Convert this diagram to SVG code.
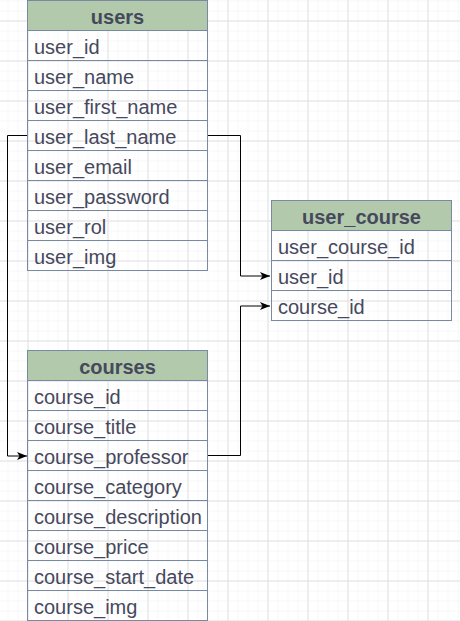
<svg xmlns="http://www.w3.org/2000/svg" width="460" height="621" viewBox="0 0 460 621">
<style>
.hdr{fill:#B2C9AB;stroke:#788AA3;stroke-width:1}
.row{fill:none;stroke:#788AA3;stroke-width:1}
.t{font-family:"Liberation Sans",Arial,sans-serif;font-size:20px;fill:#46495D}
.h{font-family:"Liberation Sans",Arial,sans-serif;font-size:20px;font-weight:bold;fill:#46495D;text-anchor:middle}
.edge{fill:none;stroke:#000;stroke-width:1}
</style>
<defs>
<pattern id="minor" x="7.5" y="0.5" width="10" height="10" patternUnits="userSpaceOnUse">
<path d="M0 0.5H10M0.5 0V10" stroke="#f0f0f0" stroke-width="1" fill="none" transform="translate(-0.5,-0.5)"/>
</pattern>
<pattern id="major" x="27.5" y="20.5" width="40" height="40" patternUnits="userSpaceOnUse">
<path d="M0 0H40M0 0V40" stroke="#e0e0e0" stroke-width="1" fill="none" transform="translate(0.5,0.5)"/>
</pattern>
<marker id="arr" viewBox="0 0 10 8" refX="10" refY="4" markerWidth="10" markerHeight="8" markerUnits="userSpaceOnUse" orient="auto">
<path d="M0 0L10 4L0 8L2.5 4Z" fill="#000"/>
</marker>
</defs>
<rect width="460" height="621" fill="#fff"/>
<rect width="460" height="621" fill="url(#minor)"/>
<rect width="460" height="621" fill="url(#major)"/>

<g id="connectors">
<path class="edge" d="M207.5 135.5H240.5V276H270" marker-end="url(#arr)"/>
<path class="edge" d="M27.5 135.5H7.5V456H27" marker-end="url(#arr)"/>
<path class="edge" d="M207.5 455.5H240.5V306H270" marker-end="url(#arr)"/>
</g>

<g id="users">
<rect class="hdr" x="27.5" y="0.5" width="180" height="30"/>
<text class="h" x="117.5" y="23.5">users</text>
<rect class="row" x="27.5" y="30.5" width="180" height="30"/>
<rect class="row" x="27.5" y="60.5" width="180" height="30"/>
<rect class="row" x="27.5" y="90.5" width="180" height="30"/>
<rect class="row" x="27.5" y="120.5" width="180" height="30"/>
<rect class="row" x="27.5" y="150.5" width="180" height="30"/>
<rect class="row" x="27.5" y="180.5" width="180" height="30"/>
<rect class="row" x="27.5" y="210.5" width="180" height="30"/>
<rect class="row" x="27.5" y="240.5" width="180" height="30"/>
<text class="t" x="34" y="53.5">user_id</text>
<text class="t" x="34" y="83.5">user_name</text>
<text class="t" x="34" y="113.5">user_first_name</text>
<text class="t" x="34" y="143.5">user_last_name</text>
<text class="t" x="34" y="173.5">user_email</text>
<text class="t" x="34" y="203.5">user_password</text>
<text class="t" x="34" y="233.5">user_rol</text>
<text class="t" x="34" y="263.5">user_img</text>
</g>

<g id="user_course">
<rect class="hdr" x="271.5" y="200.5" width="180" height="30"/>
<text class="h" x="361.5" y="223.5">user_course</text>
<rect class="row" x="271.5" y="230.5" width="180" height="30"/>
<rect class="row" x="271.5" y="260.5" width="180" height="30"/>
<rect class="row" x="271.5" y="290.5" width="180" height="30"/>
<text class="t" x="278" y="253.5">user_course_id</text>
<text class="t" x="278" y="283.5">user_id</text>
<text class="t" x="278" y="313.5">course_id</text>
</g>

<g id="courses">
<rect class="hdr" x="27.5" y="350.5" width="180" height="30"/>
<text class="h" x="117.5" y="373.5">courses</text>
<rect class="row" x="27.5" y="380.5" width="180" height="30"/>
<rect class="row" x="27.5" y="410.5" width="180" height="30"/>
<rect class="row" x="27.5" y="440.5" width="180" height="30"/>
<rect class="row" x="27.5" y="470.5" width="180" height="30"/>
<rect class="row" x="27.5" y="500.5" width="180" height="30"/>
<rect class="row" x="27.5" y="530.5" width="180" height="30"/>
<rect class="row" x="27.5" y="560.5" width="180" height="30"/>
<rect class="row" x="27.5" y="590.5" width="180" height="30"/>
<text class="t" x="34" y="403.5">course_id</text>
<text class="t" x="34" y="433.5">course_title</text>
<text class="t" x="34" y="463.5">course_professor</text>
<text class="t" x="34" y="493.5">course_category</text>
<text class="t" x="34" y="523.5">course_description</text>
<text class="t" x="34" y="553.5">course_price</text>
<text class="t" x="34" y="583.5">course_start_date</text>
<text class="t" x="34" y="613.5">course_img</text>
</g>
</svg>
